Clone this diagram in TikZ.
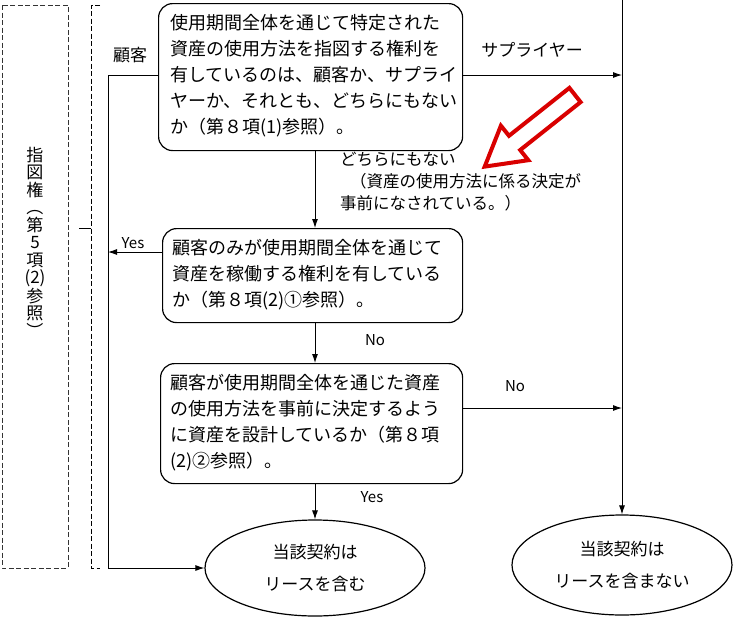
\documentclass[tikz,border=0pt]{standalone}
\usepackage{fontspec}
\setmainfont{Noto Sans CJK JP}
\usetikzlibrary{arrows.meta,shapes.geometric}
\begin{document}
\begin{tikzpicture}[x=1pt,y=-1pt,
  box/.style={draw,line width=1.2pt,rounded corners=14pt,inner sep=0pt,anchor=north west},
  txt/.style={font=\fontsize{18}{26}\selectfont,align=left,anchor=west,inner sep=0pt},
  ell/.style={draw,line width=1.2pt,ellipse,align=center,font=\fontsize{17}{32}\selectfont},
  lbl/.style={font=\fontsize{15}{20}\selectfont,inner sep=0pt},
  arr/.style={line width=0.9pt,-{Latex[length=9pt,width=6pt]}},
  dsh/.style={line width=1pt,dash pattern=on 5pt off 2.5pt},
  ln/.style={line width=0.9pt}]
\useasboundingbox (0,0) rectangle (740,625);
% left dashed box
\draw[dsh,black!80] (2,5) rectangle (68,568);
\node[font=\fontsize{17}{17.5}\selectfont,align=center,inner sep=0pt] (v) at (35,242) {指\\図\\権\\︵\\第\\5\\項\\(2)\\参\\照\\︶};
% bracket
\draw[dsh] (100,5) -- (91,5) -- (91,568) -- (100,568);
\coordinate (tk) at (91,228);
\draw[ln] (tk) -- ++(-12,0);
% boxes
\node[box,minimum width=304pt,minimum height=147pt] (b1) at (158,3) {};
\node[txt] (t1) at (170,76) {使用期間全体を通じて特定された\\資産の使用方法を指図する権利を\\有しているのは、顧客か、サプライ\\ヤーか、それとも、どちらにもない\\か（第８項(1)参照）。};
\node[box,minimum width=300pt,minimum height=94pt] (b2) at (162,228) {};
\node[txt] (t2) at (172,275) {顧客のみが使用期間全体を通じて\\資産を稼働する権利を有している\\か（第８項(2)①参照）。};
\node[box,minimum width=302pt,minimum height=120pt] (b3) at (160,363) {};
\node[txt] (t3) at (170,423) {顧客が使用期間全体を通じた資産\\の使用方法を事前に決定するよう\\に資産を設計しているか（第８項\\(2)②参照）。};
\node[ell,minimum width=220pt,minimum height=96pt] (e1) at (315,568) {当該契約は\\リースを含む};
\node[ell,minimum width=220pt,minimum height=100pt] (e2) at (622,565) {当該契約は\\リースを含まない};
% connectors
\coordinate (c1) at (108,75);
\coordinate (c2) at (108,568);
\draw[ln] (b1.west |- c1) -- (c1) -- (c2);
\draw[arr] (c2) -- (e1.west);
\coordinate (yl) at (108,252);
\draw[arr] (b2.west |- yl) -- (yl);
\coordinate (top) at (622,0);
\draw[arr] (top) -- (e2.north);
\coordinate (s1) at (622,75);
\draw[arr] (b1.east |- s1) -- (s1);
\coordinate (s3) at (622,408);
\draw[arr] (b3.east |- s3) -- (s3);
\draw[arr] (315,150) -- (315,228);
\draw[arr] (315,322) -- (315,363);
\draw[arr] (315,483) -- (e1.north);
% labels
\node[lbl,font=\fontsize{17}{20}\selectfont] (l1) at (130,55) {顧客};
\node[lbl,font=\fontsize{17}{20}\selectfont] (l2) at (532,50) {サプライヤー};
\node[lbl] (l3) at (133,243) {Yes};
\node[lbl] (l4) at (375,340) {No};
\node[lbl] (l5) at (515,386) {No};
\node[lbl] (l6) at (372,497) {Yes};
\node[lbl,anchor=north west,align=left,font=\fontsize{16.5}{22}\selectfont] (l7) at (340,152) {どちらにもない\\\hspace*{0.6em}（資産の使用方法に係る決定が\\事前になされている。）};
% red arrow
\draw[red!85!black,line width=4pt,line join=miter] (569.4,87.9)--(509.0,135.8)--(500.9,125.7)--(484.7,166.6)--(528.3,160.2)--(520.2,150.0)--(580.6,102.1)--cycle;
\end{tikzpicture}
\end{document}
